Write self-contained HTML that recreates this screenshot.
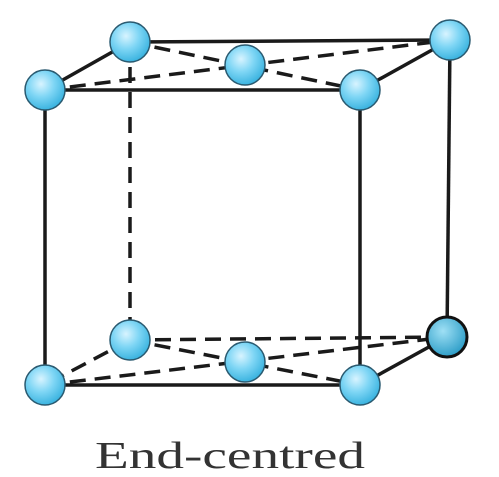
<!DOCTYPE html>
<html><head><meta charset="utf-8"><style>
html,body{margin:0;padding:0;background:#fff;width:499px;height:477px;overflow:hidden}
</style></head><body>
<svg width="499" height="477" viewBox="0 0 499 477">
<defs>
<radialGradient id="g" cx="40%" cy="35%" r="65%">
<stop offset="0" stop-color="#d8f4ff"/><stop offset="0.5" stop-color="#7fd6f5"/><stop offset="1" stop-color="#3cb4e0"/>
</radialGradient>
<radialGradient id="g2" cx="40%" cy="35%" r="65%">
<stop offset="0" stop-color="#9fe0f5"/><stop offset="1" stop-color="#2e9ec8"/>
</radialGradient>
</defs>
<g stroke="#1a1a1a" stroke-width="3.5" fill="none">
<line x1="130" y1="42" x2="450" y2="40"/>
<line x1="45" y1="90" x2="130" y2="42"/>
<line x1="45" y1="90" x2="360" y2="90"/>
<line x1="360" y1="90" x2="450" y2="40"/>
<line x1="45" y1="90" x2="45" y2="385"/>
<line x1="360" y1="90" x2="360" y2="385"/>
<line x1="450" y1="40" x2="447" y2="337"/>
<line x1="45" y1="385" x2="360" y2="385"/>
<line x1="360" y1="385" x2="447" y2="337"/>
</g>
<g stroke="#1a1a1a" stroke-width="3.5" stroke-dasharray="16,9" fill="none">
<line x1="130" y1="42" x2="130" y2="340"/>
<line x1="130" y1="340" x2="447" y2="337"/>
<line x1="130" y1="340" x2="45" y2="385"/>
<line x1="45" y1="90" x2="450" y2="40"/>
<line x1="130" y1="42" x2="360" y2="90"/>
<line x1="45" y1="385" x2="447" y2="337"/>
<line x1="130" y1="340" x2="360" y2="385"/>
</g>
<g stroke="#2a5a70" stroke-width="1.5" fill="url(#g)">
<circle cx="130" cy="42" r="20"/>
<circle cx="450" cy="40" r="20"/>
<circle cx="245" cy="65" r="20"/>
<circle cx="45" cy="90" r="20"/>
<circle cx="360" cy="90" r="20"/>
<circle cx="130" cy="340" r="20"/>
<circle cx="447" cy="337" r="20" fill="url(#g2)" stroke="#111" stroke-width="3"/>
<circle cx="245" cy="362" r="20"/>
<circle cx="45" cy="385" r="20"/>
<circle cx="360" cy="385" r="20"/>
</g>
<text x="95" y="468" textLength="270" lengthAdjust="spacingAndGlyphs" font-family="'Liberation Serif', serif" font-size="38" fill="#333">End-centred</text>
</svg>
</body></html>
